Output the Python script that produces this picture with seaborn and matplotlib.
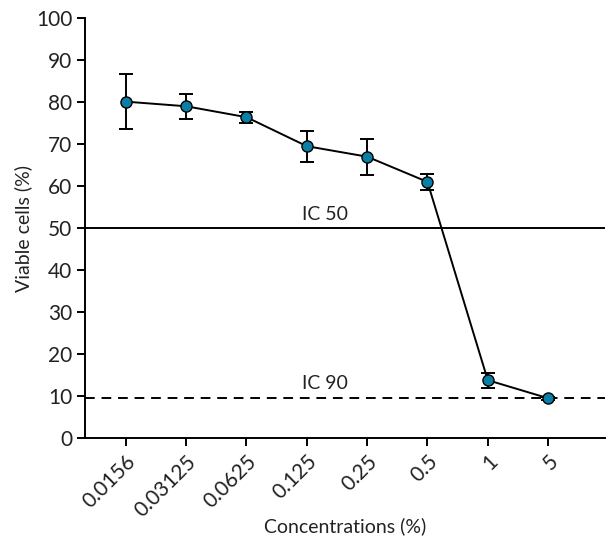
import numpy as np
import pandas as pd
import matplotlib
matplotlib.use("Agg")
import matplotlib.pyplot as plt
import seaborn as sns

# Values
concentrations = ['0.0156', '0.03125', '0.0625', '0.125', '0.25', '0.5', '1', '5']
viable = [80.1, 79.0, 76.4, 69.5, 67.0, 61.0, 13.8, 9.5]
err = [6.5, 3.0, 1.3, 3.7, 4.3, 1.9, 1.8, 0.4]
ic50 = 50
ic90 = 9.5

sns.set_style("ticks")
plt.rcParams['font.family'] = ['Lato', 'DejaVu Sans']

fig = plt.figure(figsize=(6.06, 5.47), dpi=100)
ax = fig.add_axes([0.140, 0.199, 0.859, 0.768])

# reference lines
ax.axhline(ic50, color='black', lw=1.4, zorder=1)
ax.axhline(ic90, color='black', lw=1.4, ls=(0, (5, 3.5)), zorder=1)
ax.text(3.3, ic50 + 1.2, 'IC 50', ha='center', va='bottom', fontsize=14, color='#222222')
ax.text(3.3, ic90 + 1.5, 'IC 90', ha='center', va='bottom', fontsize=14, color='#222222')

xs = np.arange(len(concentrations))
ax.errorbar(xs, viable, yerr=err, fmt='none', ecolor='black', elinewidth=1.4,
            capsize=5, capthick=1.4, zorder=2)
sns.lineplot(x=xs, y=viable, color='black', lw=1.4, marker='o', markersize=8,
             markerfacecolor='#0a7fa6', markeredgecolor='black', markeredgewidth=1,
             ax=ax, zorder=3)

ax.set_xlim(-0.68, 7.95)
ax.set_ylim(0, 100)
ax.set_yticks(np.arange(0, 101, 10))
ax.set_xticks(xs)
ax.set_xticklabels(concentrations, rotation=45, ha='right', rotation_mode='anchor')
ax.tick_params(axis='both', labelsize=15, length=6, width=1.4, color='black', labelcolor='#222222')
ax.tick_params(axis='y', pad=3)
for s in ['left', 'bottom']:
    ax.spines[s].set_linewidth(1.4)
    ax.spines[s].set_color('black')
sns.despine(ax=ax, top=True, right=True)

ax.set_ylabel('Viable cells (%)', fontsize=14, color='#222222', labelpad=3)
ax.set_xlabel('Concentrations (%)', fontsize=14, color='#222222', labelpad=-2)

fig.savefig('out.png', dpi=100)
